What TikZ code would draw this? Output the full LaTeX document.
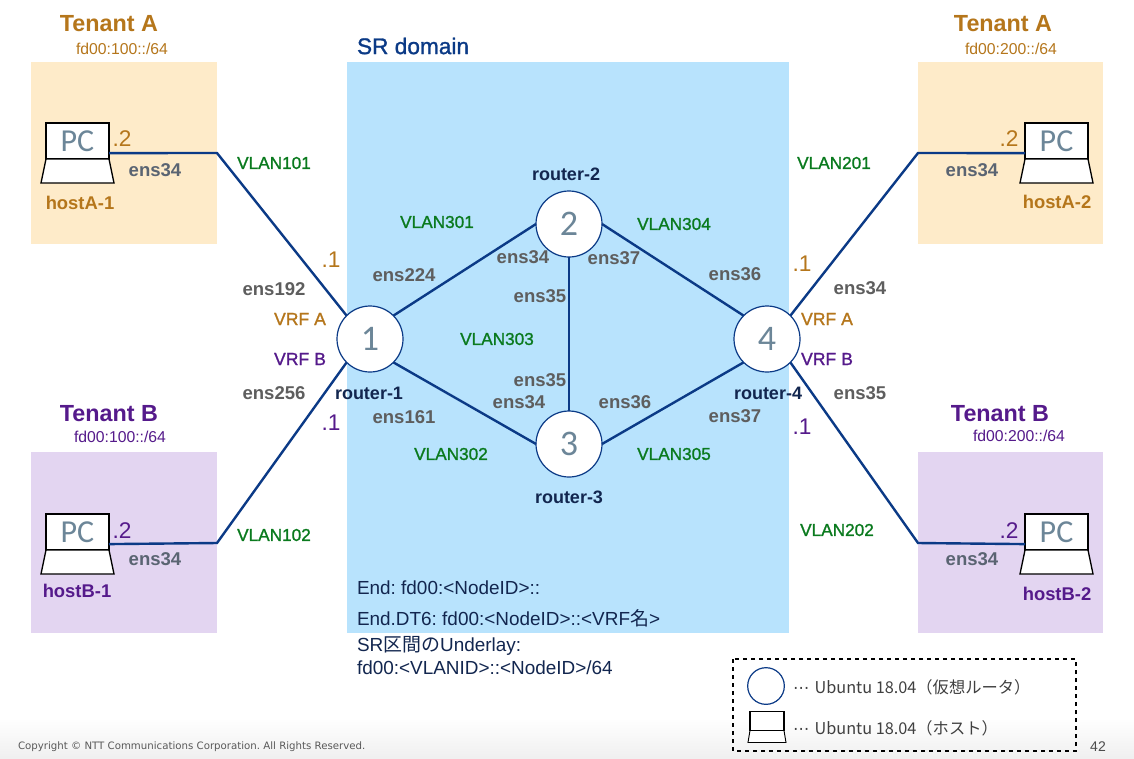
\documentclass[tikz,border=0pt]{standalone}
\usepackage{fontspec}
\setmainfont{Liberation Sans}
\newfontfamily\pcfont{Carlito}
\newfontfamily\cjkfont{Noto Sans CJK JP}
\newfontfamily\footfont{DejaVu Sans}
\newfontfamily\semifont[FakeBold=1.2]{Liberation Sans}
\usepackage{xcolor}
\usetikzlibrary{positioning, calc, shadings}
\frenchspacing
\definecolor{netNavy}{HTML}{0B3A86}
\definecolor{netAmber}{HTML}{B5761B}
\definecolor{netPurple}{HTML}{551A8B}
\definecolor{netGreen}{HTML}{0A7A1E}
\definecolor{netGray}{HTML}{5E5E5E}
\definecolor{netSlate}{HTML}{5A6472}
\definecolor{netSteel}{HTML}{6C8698}
\definecolor{netInk}{HTML}{12264F}
\definecolor{zoneAmber}{HTML}{FEEBC9}
\definecolor{zonePurple}{HTML}{E3D5F1}
\definecolor{zoneBlue}{HTML}{B8E3FD}

% body of a laptop below its screen node
\newcommand{\laptopbase}[1]{
  \draw[laptopline, fill=white] (#1.south west) -- ++(-5,24) -- ++(73,0) -- (#1.south east) -- cycle;
}

\begin{document}
\begin{tikzpicture}[
  x=0.75pt, y=-0.75pt,
  every node/.style={inner sep=0pt, outer sep=0pt},
  router/.style={
    circle, minimum size=49.5pt, draw=netNavy, line width=0.9pt, fill=white,
    text=netSteel, font=\pcfont\fontsize{27}{30}\selectfont
  },
  laptopline/.style={black, line width=1pt},
  laptop/.style={
    rectangle, minimum width=47.25pt, minimum height=27pt, draw=black, line width=1pt, fill=white,
    text=netSteel, font=\pcfont\fontsize{24}{26}\selectfont
  },
  link/.style={netNavy, line width=1.8pt},
  tenantA/.style={text=netAmber, font=\bfseries\fontsize{17.5}{20}\selectfont},
  tenantB/.style={text=netPurple, font=\bfseries\fontsize{17.5}{20}\selectfont},
  prefixA/.style={text=netAmber, font=\fontsize{11.8}{13}\selectfont},
  prefixB/.style={text=netPurple, font=\fontsize{11.8}{13}\selectfont},
  hostA/.style={text=netAmber, font=\bfseries\fontsize{13.8}{15}\selectfont},
  hostB/.style={text=netPurple, font=\bfseries\fontsize{13.8}{15}\selectfont},
  addrA/.style={text=netAmber, font=\fontsize{17}{19}\selectfont},
  addrB/.style={text=netPurple, font=\fontsize{17}{19}\selectfont},
  vrfA/.style={text=netAmber, font=\semifont\fontsize{13.2}{14}\selectfont},
  vrfB/.style={text=netPurple, font=\semifont\fontsize{13.2}{14}\selectfont},
  vlan/.style={text=netGreen, font=\semifont\fontsize{12.9}{14}\selectfont},
  port/.style={text=netGray, font=\bfseries\fontsize{13.9}{15}\selectfont},
  hostport/.style={text=netSlate, font=\bfseries\fontsize{13.9}{15}\selectfont},
  routername/.style={text=netInk, font=\bfseries\fontsize{13.5}{15}\selectfont},
  note/.style={text=netInk, anchor=west, font=\fontsize{14.2}{16}\selectfont},
  legend/.style={text=black!75, anchor=west, font=\cjkfont\fontsize{12.2}{14}\selectfont},
]

% Page and footer
\fill[white] (0,0) rectangle (1134,758);
\shade[top color=white, bottom color=black!6] (0,718) rectangle (1134,758);
\useasboundingbox (0,0) rectangle (1134,758);

% Zones
\fill[zoneBlue] (347,62) rectangle (789,633);
\fill[zoneAmber] (31,62) rectangle (217,244);
\fill[zoneAmber] (918,62) rectangle (1103,244);
\fill[zonePurple] (31,452) rectangle (217,633);
\fill[zonePurple] (918,452) rectangle (1103,633);

% Routers
\node[router] (rt1) at (370,339) {1};
\node[router] (rt2) at (569,224) {2};
\node[router] (rt3) at (569,444) {3};
\node[router] (rt4) at (767,339) {4};

% Hosts
\node[laptop] (pcA1) at (77.5,141) {PC};
\laptopbase{pcA1}
\node[laptop] (pcB1) at (77.5,532) {PC};
\laptopbase{pcB1}
\node[laptop] (pcA2) at (1056.5,141) {PC};
\laptopbase{pcA2}
\node[laptop] (pcB2) at (1056.5,532) {PC};
\laptopbase{pcB2}

% Links between routers
\draw[link] (rt1.45) -- (rt2.west);
\draw[link] (rt1.-45) -- (rt3.west);
\draw[link] (rt2.south) -- (rt3.north);
\draw[link] (rt2.east) -- (rt4.135);
\draw[link] (rt3.east) -- (rt4.225);

% Links to hosts
\coordinate (bendA1) at (217,153);
\coordinate (bendB1) at (217,543);
\coordinate (bendA2) at (918,153);
\coordinate (bendB2) at (918,543);
\draw[link] (pcA1.-21) -- (bendA1) -- (rt1.135);
\draw[link] (pcB1.-21) -- (bendB1) -- (rt1.225);
\draw[link] (pcA2.201) -- (bendA2) -- (rt4.45);
\draw[link] (pcB2.201) -- (bendB2) -- (rt4.-45);

% Tenants
\node[tenantA] (tenantA1) at (109,24) {Tenant A};
\node[prefixA] (prefixA1) at (122,49) {fd00:100::/64};
\node[tenantA] (tenantA2) at (1003,24) {Tenant A};
\node[prefixA] (prefixA2) at (1011,49) {fd00:200::/64};
\node[tenantB] (tenantB1) at (109,414) {Tenant B};
\node[prefixB] (prefixB1) at (120,437) {fd00:100::/64};
\node[tenantB] (tenantB2) at (1000,414) {Tenant B};
\node[prefixB] (prefixB2) at (1019,436) {fd00:200::/64};
\node[hostA] (nameA1) at (80,203) {hostA-1};
\node[hostA] (nameA2) at (1057,202) {hostA-2};
\node[hostB] (nameB1) at (77,591) {hostB-1};
\node[hostB] (nameB2) at (1057,594) {hostB-2};

% Host side addresses
\node[addrA] (addrA1) at (122,139) {.2};
\node[addrA] (addrA2) at (1009,139) {.2};
\node[addrB] (addrB1) at (122,531) {.2};
\node[addrB] (addrB2) at (1009,531) {.2};
\node[hostport] (portA1) at (155,170) {ens34};
\node[hostport] (portA2) at (972,170) {ens34};
\node[hostport] (portB1) at (155,559) {ens34};
\node[hostport] (portB2) at (972,559) {ens34};

% Router side of the tenants
\node[addrA] (gwA1) at (331,260) {.1};
\node[addrB] (gwB1) at (331,423) {.1};
\node[addrA] (gwA2) at (802,264) {.1};
\node[addrB] (gwB2) at (802,427) {.1};
\node[vrfA] (vrfA1) at (300,319) {VRF A};
\node[vrfB] (vrfB1) at (300,359) {VRF B};
\node[vrfA] (vrfA4) at (827,319) {VRF A};
\node[vrfB] (vrfB4) at (827,359) {VRF B};

% VLANs
\node[vlan] (vlan101) at (274,163) {VLAN101};
\node[vlan] (vlan102) at (274,535) {VLAN102};
\node[vlan] (vlan201) at (834,163) {VLAN201};
\node[vlan] (vlan202) at (837,530) {VLAN202};
\node[vlan] (vlan301) at (437,222) {VLAN301};
\node[vlan] (vlan302) at (451,454) {VLAN302};
\node[vlan] (vlan303) at (497,339) {VLAN303};
\node[vlan] (vlan304) at (674,224) {VLAN304};
\node[vlan] (vlan305) at (674,454) {VLAN305};

% Interfaces
\node[port] (if1a) at (274,289) {ens192};
\node[port] (if1b) at (274,393) {ens256};
\node[port] (if1c) at (404,275) {ens224};
\node[port] (if1d) at (404,417) {ens161};
\node[port] (if2a) at (523,257) {ens34};
\node[port] (if2b) at (614,258) {ens37};
\node[port] (if2c) at (540,296) {ens35};
\node[port] (if3a) at (540,380) {ens35};
\node[port] (if3b) at (519,402) {ens34};
\node[port] (if3c) at (625,402) {ens36};
\node[port] (if4a) at (735,274) {ens36};
\node[port] (if4b) at (735,416) {ens37};
\node[port] (if4c) at (860,288) {ens34};
\node[port] (if4d) at (860,393) {ens35};

% Router names
\node[routername] (name1) at (369,393) {router-1};
\node[routername] (name2) at (566,174) {router-2};
\node[routername] (name3) at (569,497) {router-3};
\node[routername] (name4) at (768,393) {router-4};

% SR domain
\node[anchor=west, text=netNavy, font=\semifont\fontsize{17}{19}\selectfont] (srtitle) at (357,46) {SR domain};
\node[note] (note1) at (357,588) {End: fd00:<NodeID>::};
\node[note] (note2) at (357,618) {End.DT6: fd00:<NodeID>::<VRF{\cjkfont 名}>};
\node[note] (note3) at (357,646) {SR{\cjkfont 区間の}Underlay:};
\node[note] (note4) at (357,668) {fd00:<VLANID>::<NodeID>/64};

% Legend
\draw[black, line width=1pt, dashed] (733,659) rectangle (1076,751);
\node[circle, minimum size=27.5pt, draw=netNavy, line width=0.9pt, fill=white] (keyrouter) at (766,686) {};
\node[rectangle, minimum width=25.5pt, minimum height=14.25pt, draw=black, line width=1pt, fill=white] (keyhost) at (767,721) {};
\draw[laptopline, line width=0.7pt, fill=white] (keyhost.south west) -- ++(-2,12) -- ++(38,0) -- (keyhost.south east) -- cycle;
\node[legend] (keytext1) at (793,687) {{\footfont ⋯}\hspace{4pt}Ubuntu 18.04（仮想ルータ）};
\node[legend] (keytext2) at (793,728) {{\footfont ⋯}\hspace{4pt}Ubuntu 18.04（ホスト）};

% Footer
\node[anchor=west, text=black!65, font=\footfont\fontsize{7.65}{9}\selectfont] (copyright) at (18,746.5) {Copyright © NTT Communications Corporation. All Rights Reserved.};
\node[text=black!70, font=\fontsize{10.5}{12}\selectfont] (pageno) at (1098,747) {42};

\end{tikzpicture}
\end{document}
